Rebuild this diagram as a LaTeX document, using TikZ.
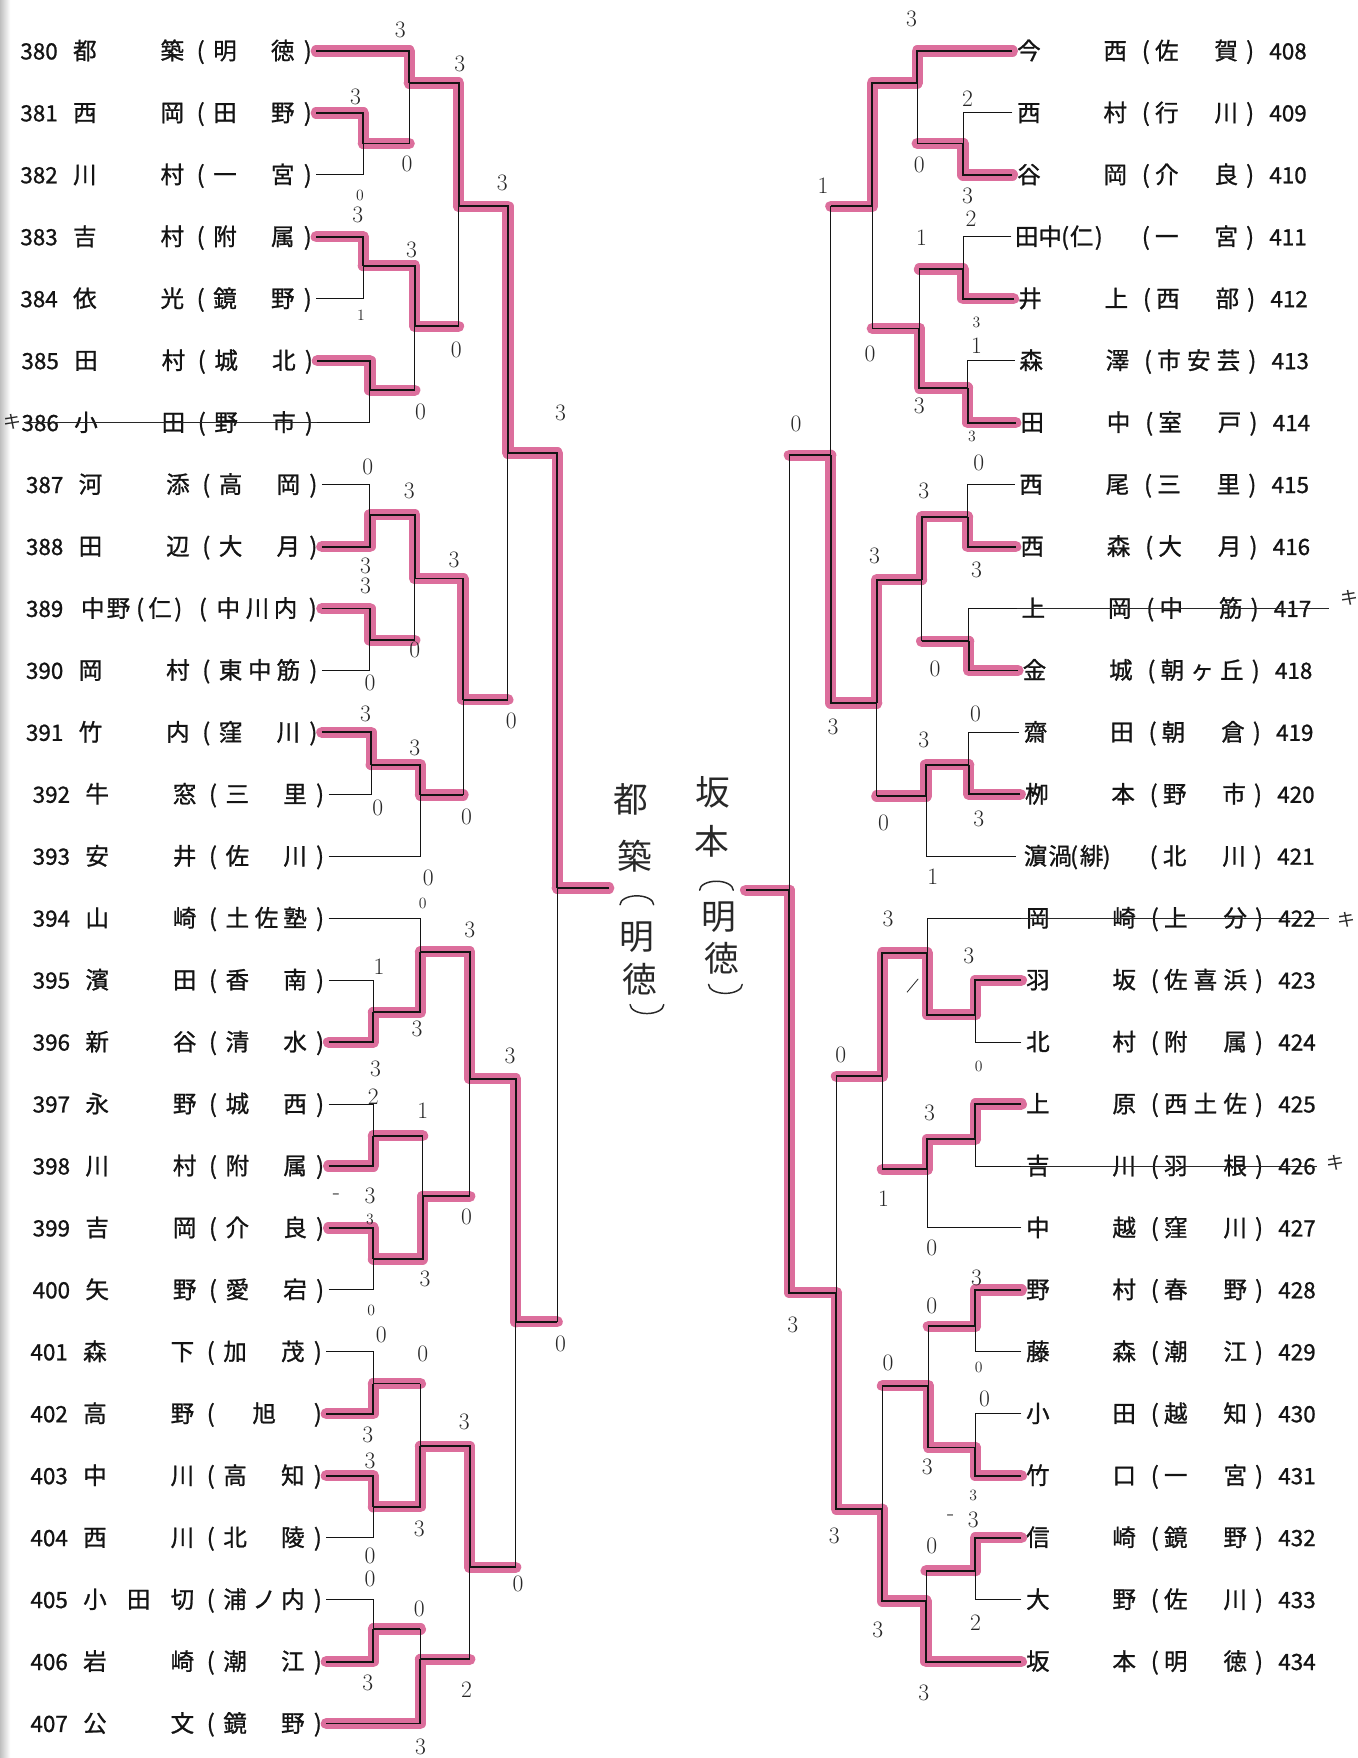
\documentclass[tikz,border=0pt]{standalone}
\usepackage{fontspec}
\newfontfamily\jpfont{Noto Sans CJK JP}
\newfontfamily\jpprint[FakeBold=1]{Noto Sans CJK JP}
\definecolor{Marker}{RGB}{220,110,156}
\definecolor{Ink}{RGB}{20,20,20}
\definecolor{Pencil}{RGB}{40,40,40}

\begin{document}
\begin{tikzpicture}[x=1pt,y=-1pt,
    namech/.style={font=\jpprint\fontsize{21}{21}\selectfont,inner sep=0pt,anchor=west,text height=18pt,text depth=3pt,text=Ink},
    paren/.style={font=\jpprint\fontsize{21}{21}\selectfont,inner sep=0pt,anchor=center,text height=18pt,text depth=3pt,text=Ink},
    entry/.style={font=\jpprint\fontsize{20}{20}\selectfont,inner sep=0pt,anchor=west,text height=18pt,text depth=3pt,text=Ink},
    score/.style={font=\fontsize{21}{21}\selectfont,inner sep=0pt,text=Pencil},
    smallscore/.style={font=\fontsize{14}{14}\selectfont,inner sep=0pt,text=Pencil},
    hand/.style={font=\jpfont\fontsize{31}{31}\selectfont,inner sep=0pt,text=Pencil},
    handline/.style={draw=Pencil,line width=1.3pt,line cap=round},
    kiken/.style={font=\jpfont\fontsize{16}{16}\selectfont,inner sep=0pt,text=Pencil},
    marker/.style={draw=Marker,line width=10pt,line cap=round,line join=round},
    bracket/.style={draw=Ink,line width=0.9pt},
    winline/.style={draw=Ink,line width=1.7pt},
    strike/.style={draw=Pencil,line width=0.7pt}
]
\useasboundingbox (0,0) rectangle (1211,1568);
\fill[white] (0,0) rectangle (1211,1568);
\shade[left color=gray!50,right color=white] (0,0) rectangle (9,1568);

% Left entries 380-407
\foreach \r/\dx/\n/\fa/\fm/\fb/\ka/\kb/\kc in {
    0/0/380/都/{}/築/明/{}/徳, 1/0/381/西/{}/岡/田/{}/野, 2/0/382/川/{}/村/一/{}/宮,
    3/0/383/吉/{}/村/附/{}/属, 4/0/384/依/{}/光/鏡/{}/野, 5/1/385/田/{}/村/城/{}/北,
    6/1/386/小/{}/田/野/{}/市, 7/5/387/河/{}/添/高/{}/岡, 8/5/388/田/{}/辺/大/{}/月,
    10/5/390/岡/{}/村/東/中/筋, 11/5/391/竹/{}/内/窪/{}/川, 12/11/392/牛/{}/窓/三/{}/里,
    13/11/393/安/{}/井/佐/{}/川, 14/11/394/山/{}/崎/土/佐/塾, 15/11/395/濱/{}/田/香/{}/南,
    16/11/396/新/{}/谷/清/{}/水, 17/11/397/永/{}/野/城/{}/西, 18/11/398/川/{}/村/附/{}/属,
    19/11/399/吉/{}/岡/介/{}/良, 20/11/400/矢/{}/野/愛/{}/宕, 21/9/401/森/{}/下/加/{}/茂,
    22/9/402/高/{}/野/{}/旭/{}, 23/9/403/中/{}/川/高/{}/知, 24/9/404/西/{}/川/北/{}/陵,
    25/9/405/小/田/切/浦/ノ/内, 26/9/406/岩/{}/崎/潮/{}/江, 27/9/407/公/{}/文/鏡/{}/野}{
  \pgfmathsetmacro\yy{45.5+55.25*\r}
  \node[entry] (n\n) at (18+\dx,\yy) {\n};
  \node[namech] (fa\n) at (65+\dx,\yy) {\fa};
  \node[namech] (fm\n) at (104+\dx,\yy) {\fm};
  \node[namech] (fb\n) at (143+\dx,\yy) {\fb};
  \node[paren] (po\n) at (179+\dx,\yy) {(};
  \node[namech] (ka\n) at (190+\dx,\yy) {\ka};
  \node[namech] (kb\n) at (216+\dx,\yy) {\kb};
  \node[namech] (kc\n) at (241.5+\dx,\yy) {\kc};
  \node[paren] (pc\n) at (274.5+\dx,\yy) {)};
  \coordinate (p\n) at (282+\dx,\yy);
}
% 389 has a longer name
\node[entry] (n389) at (23,542.75) {389};
\node[namech] (fa389) at (72,542.75) {中};
\node[namech] (fb389) at (95,542.75) {野};
\node[paren] (pa389) at (125,542.75) {(};
\node[namech] (fc389) at (132,542.75) {仁};
\node[paren] (pb389) at (159,542.75) {)};
\node[paren] (po389) at (181,542.75) {(};
\node[namech] (ka389) at (193,542.75) {中};
\node[namech] (kb389) at (219,542.75) {川};
\node[namech] (kc389) at (244,542.75) {内};
\node[paren] (pc389) at (279,542.75) {)};
\coordinate (p389) at (287,542.75);

% Right entries 408-434
\foreach \r/\dx/\n/\fa/\fb/\ka/\kb/\kc in {
    0/0/408/今/西/佐/{}/賀, 1/0/409/西/村/行/{}/川, 2/0/410/谷/岡/介/{}/良,
    4/1/412/井/上/西/{}/部, 5/2/413/森/澤/市/安/芸, 6/3/414/田/中/室/{}/戸,
    7/2/415/西/尾/三/{}/里, 8/3/416/西/森/大/{}/月, 9/4/417/上/岡/中/{}/筋,
    10/5/418/金/城/朝/ヶ/丘, 11/6/419/齋/田/朝/{}/倉, 12/7/420/栁/本/野/{}/市,
    14/8/422/岡/崎/上/{}/分, 15/8/423/羽/坂/佐/喜/浜, 16/8/424/北/村/附/{}/属,
    17/8/425/上/原/西/土/佐, 18/8/426/吉/川/羽/{}/根, 19/8/427/中/越/窪/{}/川,
    20/8/428/野/村/春/{}/野, 21/8/429/藤/森/潮/{}/江, 22/8/430/小/田/越/{}/知,
    23/8/431/竹/口/一/{}/宮, 24/8/432/信/崎/鏡/{}/野, 25/8/433/大/野/佐/{}/川,
    26/8/434/坂/本/明/{}/徳}{
  \pgfmathsetmacro\yy{45.5+55.25*\r}
  \coordinate (p\n) at (903+\dx,\yy);
  \node[namech] (fa\n) at (907+\dx,\yy) {\fa};
  \node[namech] (fb\n) at (984+\dx,\yy) {\fb};
  \node[paren] (po\n) at (1022+\dx,\yy) {(};
  \node[namech] (ka\n) at (1030+\dx,\yy) {\ka};
  \node[namech] (kb\n) at (1056.5+\dx,\yy) {\kb};
  \node[namech] (kc\n) at (1083+\dx,\yy) {\kc};
  \node[paren] (pc\n) at (1115+\dx,\yy) {)};
  \node[entry] (n\n) at (1132+\dx,\yy) {\n};
}
% 411 and 421 have longer names
\coordinate (p411) at (902,211.25);
\node[namech] (fa411) at (905,211.25) {田};
\node[namech] (fb411) at (926,211.25) {中};
\node[paren] (pa411) at (950,211.25) {(};
\node[namech] (fc411) at (954,211.25) {仁};
\node[paren] (pb411) at (980,211.25) {)};
\node[paren] (po411) at (1022,211.25) {(};
\node[namech] (ka411) at (1030,211.25) {一};
\node[namech] (kc411) at (1083,211.25) {宮};
\node[paren] (pc411) at (1115,211.25) {)};
\node[entry] (n411) at (1132,211.25) {411};
\coordinate (p421) at (906,763.75);
\node[namech] (fa421) at (913,763.75) {濵};
\node[namech] (fb421) at (935,763.75) {渦};
\node[paren] (pa421) at (958,763.75) {(};
\node[namech] (fc421) at (963,763.75) {緋};
\node[paren] (pb421) at (987,763.75) {)};
\node[paren] (po421) at (1029,763.75) {(};
\node[namech] (ka421) at (1037,763.75) {北};
\node[namech] (kc421) at (1090,763.75) {川};
\node[paren] (pc421) at (1122,763.75) {)};
\node[entry] (n421) at (1139,763.75) {421};

% Match junctions
\foreach \m/\x/\y in {
    A1/324/128, A2/365/74, A3/324/237, A4/330/348, A5/370/291, A6/409/184,
    B1/330/459, B2/330/571, B3/370/516, B4/331/682, B5/375/709, B6/413/624, AB/453/404,
    C1/333/903, C2/375/849, C3/333/1013, C4/333/1123, C5/377/1067, C6/419/962,
    D1/333/1234, D2/333/1344, D3/375/1290, D4/333/1453, D5/375/1480, D6/419/1398, CD/460/1179,
    LF/497/792, Lend/543/792,
    RA1/859/128, RA2/818/74, RA3/859/240, RA4/863/346, RA5/820/293, RA6/778/184,
    RB1/863/461, RB2/864/572, RB3/822/517, RB4/864/682, RB5/826/710, RB6/782/627, RAB/741/406,
    RC1/870/905, RC2/827/850, RC3/870/1016, RC5/827/1043, RC6/787/960,
    RD1/870/1183, RD2/870/1291, RD3/828/1236, RD4/870/1401, RD5/826/1428, RD6/787/1346, RCD/746/1153,
    RF/704/794, Rend/665/794}
  \coordinate (\m) at (\x,\y);

% match / winner / loser / loser is a match
\def\matches{A1/p381/p382/0, A2/p380/A1/1, A3/p383/p384/0, A4/p385/p386/0, A5/A3/A4/1, A6/A2/A5/1,
    B1/p388/p387/0, B2/p389/p390/0, B3/B1/B2/1, B4/p391/p392/0, B5/B4/p393/0, B6/B3/B5/1, AB/A6/B6/1,
    C1/p396/p395/0, C2/C1/p394/0, C3/p398/p397/0, C4/p399/p400/0, C5/C4/C3/1, C6/C2/C5/1,
    D1/p402/p401/0, D2/p403/p404/0, D3/D2/D1/1, D4/p406/p405/0, D5/p407/D4/1, D6/D3/D5/1, CD/C6/D6/1,
    LF/AB/CD/1,
    RA1/p410/p409/0, RA2/p408/RA1/1, RA3/p412/p411/0, RA4/p414/p413/0, RA5/RA4/RA3/1, RA6/RA2/RA5/1,
    RB1/p416/p415/0, RB2/p418/p417/0, RB3/RB1/RB2/1, RB4/p420/p419/0, RB5/RB4/p421/0, RB6/RB3/RB5/1,
    RAB/RB6/RA6/1,
    RC1/p423/p424/0, RC2/RC1/p422/0, RC3/p425/p426/0, RC5/RC3/p427/0, RC6/RC2/RC5/1,
    RD1/p428/p429/0, RD2/p431/p430/0, RD3/RD2/RD1/1, RD4/p432/p433/0, RD5/p434/RD4/1, RD6/RD5/RD3/1,
    RCD/RD6/RC6/1, RF/RCD/RAB/1}

% Highlighter
\foreach \m/\w/\l/\lm in \matches {
  \draw[marker] (\w) -| (\m);
  \ifnum\lm=1 \draw[marker] (\l) -- (\l -| \m); \fi
}
\draw[marker] (LF) -- (Lend);
\draw[marker] (RF) -- (Rend);

% Printed bracket
\foreach \m/\w/\l/\lm in \matches {
  \draw[winline] (\w) -| (\m);
  \ifnum\lm=1
    \draw[winline] (\l) -- (\l -| \m);
    \draw[bracket] (\l -| \m) -- (\m);
  \else
    \draw[bracket] (\l) -| (\m);
  \fi
}
\draw[winline] (LF) -- (Lend);
\draw[winline] (RF) -- (Rend);

% Withdrawals
\coordinate (st386) at (21,377);
\coordinate (st417) at (1185,542.75);
\coordinate (st422) at (1185,819);
\coordinate (st426) at (1175,1040);
\draw[strike] (st386) -- (p386);
\draw[strike] (p417) -- (st417);
\draw[strike] (p422) -- (st422);
\draw[strike] (p426) -- (st426);
\node[kiken] (k386) at (11,376) {キ};
\node[kiken] (k417) at (1204,533) {キ};
\node[kiken] (k422) at (1201,820) {キ};
\node[kiken] (k426) at (1191,1037) {キ};

% Scores
\foreach \x/\y/\t [count=\i] in {
    357/27/3, 410/57/3, 317/86/3, 363/146/0, 319/192/3, 367/223/3, 407/312/0, 375/367/0, 448/163/3, 500/368/3,
    328/416/0, 365/438/3, 326/505/3, 326/523/3, 405/499/3, 370/580/0, 330/609/0, 456/643/0, 326/637/3,
    370/667/3, 337/721/0, 416/729/0, 382/783/0,
    419/829/3, 338/862/1, 372/918/3, 335/953/3, 333/978/2, 455/942/3, 377/991/1, 300/1067/-, 330/1067/3,
    416/1085/0, 379/1141/3,
    500/1199/0, 340/1191/0, 377/1208/0, 328/1280/3, 330/1303/3, 414/1268/3, 374/1364/3, 330/1388/0,
    330/1408/0, 462/1413/0, 374/1435/0, 328/1501/3, 416/1507/2, 375/1558/3,
    813/17/3, 863/88/2, 820/147/0, 863/175/3, 734/166/1, 866/195/2, 822/212/1, 871/308/1, 776/316/0,
    820/362/3, 710/378/0,
    873/413/0, 824/438/3, 780/496/3, 871/508/3, 834/597/0, 743/648/3, 870/637/0, 824/660/3, 873/730/3,
    788/734/0, 832/782/1,
    792/820/3, 864/853/3, 750/941/0, 829/993/3, 788/1069/1, 831/1113/0,
    871/1140/3, 831/1165/0, 707/1182/3, 792/1216/0, 878/1248/0, 827/1308/3, 848/1354/-, 868/1356/3,
    744/1370/3, 831/1379/0, 870/1447/2, 783/1454/3, 824/1510/3}
  \node[score] (s\i) at (\x,\y) {\t};
\foreach \x/\y/\t [count=\i] in {
    321/174/0, 322/281/1, 377/806/0, 330/1088/3, 331/1169/0,
    871/288/3, 867/389/3, 873/951/0, 873/1220/0, 868/1334/3}
  \node[smallscore] (ss\i) at (\x,\y) {\t};
\draw[strike] (809,885) -- (819,873);

% Finalists, handwritten in a column
\node[hand] (w1) at (563,713) {都};
\node[hand] (w2) at (566,764) {築};
\coordinate (w3) at (568,803);
\node[hand] (w4) at (568,836) {明};
\node[hand] (w5) at (571,873) {徳};
\coordinate (w6) at (577,900);
\node[hand] (v1) at (636,707) {坂};
\node[hand] (v2) at (635,750) {本};
\coordinate (v3) at (639,790);
\node[hand] (v4) at (641,818) {明};
\node[hand] (v5) at (644,855) {徳};
\coordinate (v6) at (647,882);
\draw[handline] (w3) ++(-15,4) arc[start angle=180,end angle=360,x radius=15,y radius=8];
\draw[handline] (w6) ++(-15,-4) arc[start angle=180,end angle=0,x radius=15,y radius=8];
\draw[handline] (v3) ++(-15,4) arc[start angle=180,end angle=360,x radius=15,y radius=8];
\draw[handline] (v6) ++(-15,-4) arc[start angle=180,end angle=0,x radius=15,y radius=8];

\end{tikzpicture}
\end{document}
